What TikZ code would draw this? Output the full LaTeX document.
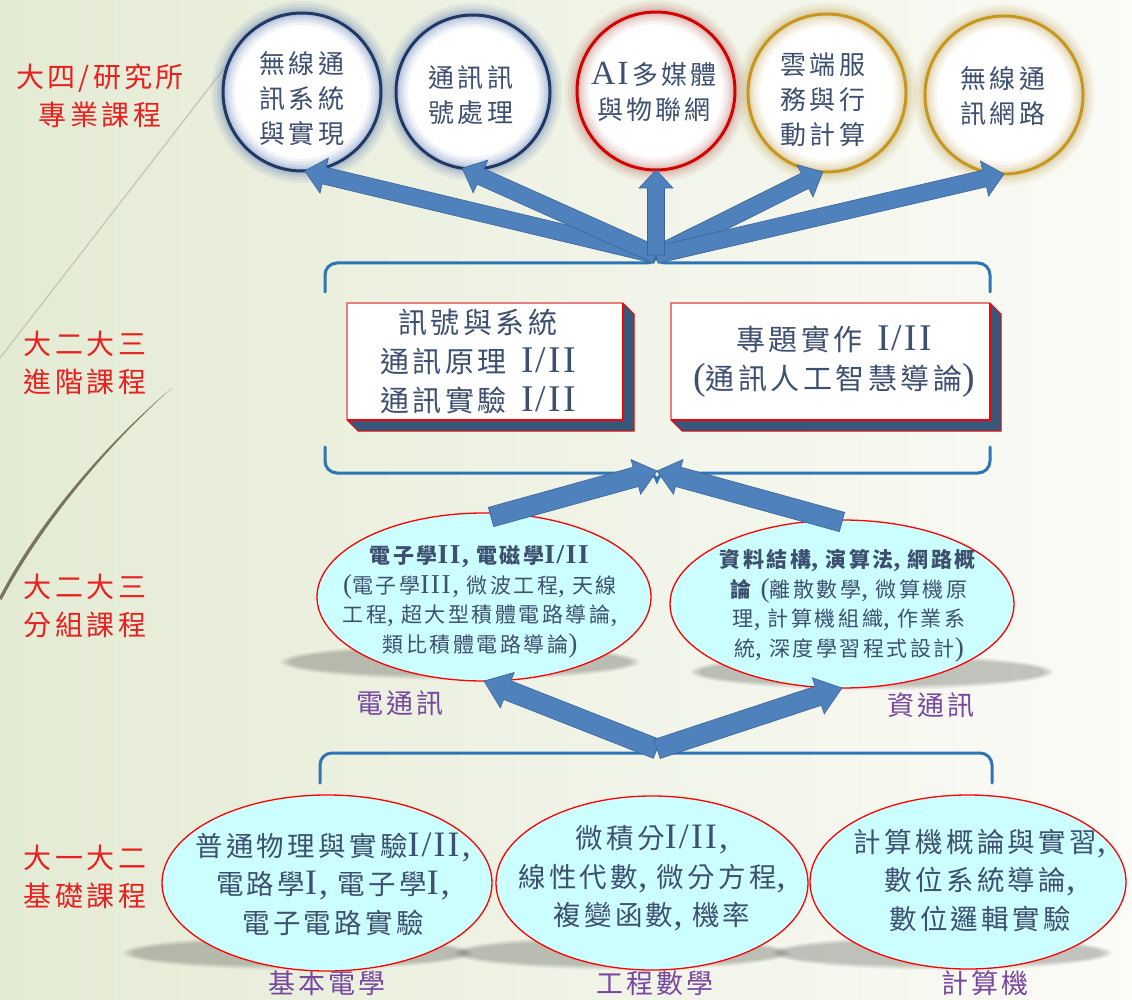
\documentclass[tikz,border=0pt]{standalone}
\usepackage{fontspec}
\setmainfont{Noto Sans CJK TC}
\newfontfamily\cjk[LetterSpace=12]{Noto Sans CJK TC}
\newfontfamily\lat[Scale=1.3,LetterSpace=6]{Liberation Serif}
\newcommand\rn[1]{{\lat #1}}
\newcommand\cm{{\lat ,}\hspace{.35em}}
\usetikzlibrary{shapes.geometric,calc}

\definecolor{bgl}{RGB}{228,235,212}
\definecolor{bgr}{RGB}{251,251,247}
\definecolor{arrfill}{RGB}{79,129,189}
\definecolor{arredge}{RGB}{58,100,155}
\definecolor{brk}{RGB}{46,117,182}
\definecolor{navy}{RGB}{31,56,100}
\definecolor{navyglow}{RGB}{95,125,180}
\definecolor{redc}{RGB}{215,0,0}
\definecolor{redglow}{RGB}{185,115,105}
\definecolor{gold}{RGB}{200,150,30}
\definecolor{goldglow}{RGB}{195,170,95}
\definecolor{txt}{RGB}{62,80,112}
\definecolor{lbl}{RGB}{232,32,32}
\definecolor{purp}{RGB}{118,72,160}
\definecolor{cyanfill}{RGB}{204,255,255}
\definecolor{extr}{RGB}{55,88,122}
\definecolor{pinkb}{RGB}{232,125,125}
\definecolor{deco}{RGB}{122,116,95}
\definecolor{decol}{RGB}{198,198,182}

\tikzset{
 ring/.style={circle, minimum size=#1, inner sep=0pt, outer sep=0pt, fill=white},
 oval/.style={ellipse, fill=cyanfill, draw=red, line width=1.3pt, inner sep=0pt, outer sep=0pt},
 box/.style={rectangle, fill=white, inner sep=0pt, outer sep=0pt},
 ctext/.style={font=\cjk\fontsize{26}{35}\selectfont, text=txt, align=center, inner sep=0pt},
 btext/.style={font=\cjk\fontsize{29}{39}\selectfont, text=txt, align=center, inner sep=0pt},
 mtext/.style={font=\cjk\fontsize{21}{29.5}\selectfont, text=txt, align=center, inner sep=0pt},
 otext/.style={font=\cjk\fontsize{27.5}{38.5}\selectfont, text=txt, align=center, inner sep=0pt},
 lvl/.style={font=\cjk\fontsize{28}{38}\selectfont, text=lbl, align=center, inner sep=0pt},
 grp/.style={font=\cjk\fontsize{27}{30}\selectfont, text=purp, inner sep=0pt},
 brace/.style={brk, line width=3pt, line cap=round},
}

\newcommand\glowring[4]{% node, glow colour, border colour, radius
 \foreach \w/\o in {24pt/0.09,18pt/0.11,12pt/0.14,7pt/0.18}{\draw[#2, line width=\w, opacity=\o] (#1.center) circle (#4);}
 \draw[#3, line width=3pt] (#1.center) circle (#4);
}
\newcommand\softshadow[3]{\foreach \k in {0,...,5}{\fill[black, opacity=0.04] (#1) ellipse ({#2+10-2*\k} and {#3+5-\k});}}
\newcommand\fatarrow[5]{% from, to, shaft half, head half, head length
 \coordinate (fah) at ($(#2)!#5!(#1)$);
 \filldraw[fill=arrfill, draw=arredge, line width=0.6pt]
 ($(#1)!#3!90:(#2)$) -- ($(fah)!#3!-90:(#1)$) -- ($(fah)!#4!-90:(#1)$) -- (#2) -- ($(fah)!#4!90:(#1)$) -- ($(fah)!#3!90:(#1)$) -- ($(#1)!#3!-90:(#2)$) -- cycle;}

\begin{document}
\begin{tikzpicture}[x=1pt,y=-1pt]
\useasboundingbox (0,0) rectangle (1132,1000);
\shade[left color=bgl, right color=bgr] (0,0) rectangle (1132,1000);

% decorative lines
\draw[decol, line width=1.3pt] (226,66) -- (0,358);
\fill[deco] (172,388) .. controls (112,438) and (40,518) .. (-1,598) -- (1.5,600) .. controls (43,521) and (113,440) .. (172,388) -- cycle;

% top circles
\node[ring=158pt] (c1) at (302,92) {};
\node[ring=154pt] (c2) at (473,92) {};
\node[ring=158pt] (c3) at (656,91) {};
\node[ring=158pt] (c4) at (827,93) {};
\node[ring=158pt] (c5) at (1004,95) {};
\glowring{c1}{navyglow}{navy}{79pt}
\glowring{c2}{navyglow}{navy}{77pt}
\glowring{c3}{redglow}{redc}{79pt}
\glowring{c4}{goldglow}{gold}{79pt}
\glowring{c5}{goldglow}{gold}{79pt}

% brackets
\coordinate (topHub) at (656,255);
\draw[brace, rounded corners=12pt] (325,292) -- (325,263) -- (646,263);
\draw[brace] (646,263) .. controls (652,263) and (655,261) .. (656,256) .. controls (657,261) and (660,263) .. (666,263);
\draw[brace, rounded corners=12pt] (666,263) -- (990,263) -- (990,292);

\coordinate (midB) at (657,471);
\draw[brace, rounded corners=12pt] (325,447) -- (325,473) -- (646,473);
\draw[brace] (646,473) .. controls (652,473) and (655,475) .. (657,481) .. controls (659,475) and (662,473) .. (668,473);
\draw[brace, rounded corners=12pt] (668,473) -- (990,473) -- (990,447);

\coordinate (botHub) at (657,749);
\draw[brace, rounded corners=12pt] (320,783) -- (320,753) -- (646,753);
\draw[brace] (646,753) .. controls (652,753) and (655,751) .. (657,745) .. controls (659,751) and (662,753) .. (668,753);
\draw[brace, rounded corners=12pt] (668,753) -- (992,753) -- (992,783);

% boxes
\node[box, minimum width=276pt, minimum height=117pt] (bx1) at (485,361.5) {};
\node[box, minimum width=319pt, minimum height=117pt] (bx2) at (830.5,361.5) {};
\foreach \b in {bx1,bx2}{
 \filldraw[fill=extr, draw=red, line width=1pt] (\b.north east) -- ++(11,11) -- ($(\b.south east)+(11,11)$) -- ($(\b.south west)+(11,11)$) -- (\b.south west) -- (\b.south east) -- cycle;
 \draw[pinkb, line width=1.5pt] (\b.south west) -- (\b.north west) -- (\b.north east);
 \draw[red, line width=1.5pt] (\b.north east) -- (\b.south east) -- (\b.south west);
}

% shadows and ovals
\softshadow{460,662}{170}{13}
\softshadow{872,672}{172}{13}
\softshadow{298,953}{165}{12}
\softshadow{622,953}{158}{12}
\softshadow{942,953}{160}{12}
\node[oval, minimum width=334pt, minimum height=168pt] (m1) at (484,597) {};
\node[oval, minimum width=344pt, minimum height=168pt] (m2) at (842,604) {};
\node[oval, minimum width=330pt, minimum height=176pt] (b1) at (327,883) {};
\node[oval, minimum width=312pt, minimum height=174pt] (b2) at (652,883) {};
\node[oval, minimum width=316pt, minimum height=174pt] (b3) at (968,882) {};

% arrows
\fatarrow{topHub}{c1.-88}{8.5pt}{18pt}{20pt}
\fatarrow{topHub}{c2.-98}{8.5pt}{18pt}{20pt}
\fatarrow{topHub}{c4.-93}{8.5pt}{18pt}{20pt}
\fatarrow{topHub}{c5.south}{8.5pt}{18pt}{20pt}
\fatarrow{topHub}{c3.south}{8.5pt}{17pt}{18pt}
\coordinate (m1top) at ($(m1.north)+(7,4)$);
\coordinate (m2top) at ($(m2.north)+(0,2)$);
\fatarrow{m1top}{midB}{10pt}{18pt}{22pt}
\fatarrow{m2top}{midB}{10pt}{18pt}{22pt}
\fatarrow{botHub}{m1.south}{10pt}{19pt}{25pt}
\fatarrow{botHub}{m2.south}{10pt}{19pt}{25pt}

% level labels
\node[lvl] (lv1) at (100,96) {大四/研究所\\專業課程};
\node[lvl] (lv2) at (85,363) {大二大三\\進階課程};
\node[lvl] (lv3) at (85,606) {大二大三\\分組課程};
\node[lvl] (lv4) at (85,877) {大一大二\\基礎課程};

% circle texts
\node[ctext] (c1t) at (302,99) {無線通\\訊系統\\與實現};
\node[ctext] (c2t) at (471,95) {通訊訊\\號處理};
\node[ctext] (c3t) at (654,92) {\rn{AI}\hspace{.15em}多媒體\\與物聯網};
\node[ctext] (c4t) at (823,100) {雲端服\\務與行\\動計算};
\node[ctext] (c5t) at (1003,96) {無線通\\訊網路};

% box texts
\node[btext] (bx1t) at (478,361) {訊號與系統\\通訊原理\hspace{.5em}\rn{I/II}\\通訊實驗\hspace{.5em}\rn{I/II}};
\node[btext] (bx2t) at (834,362) {專題實作\hspace{.5em}\rn{I/II}\\\rn{(}通訊人工智慧導論\rn{)}};

% middle oval texts
\node[mtext] (m1t) at (480,602) {\textbf{電子學\rn{II}\cm 電磁學\rn{I/II}}\\\rn{(}電子學\rn{III}\cm 微波工程\cm 天線\\工程\cm 超大型積體電路導論\rn{,}\\類比積體電路導論\rn{)}};
\node[mtext] (m2t) at (849,606) {\textbf{資料結構\cm 演算法\cm 網路概}\\\textbf{論}\hspace{.3em}\rn{(}離散數學\cm 微算機原\\理\cm 計算機組織\cm 作業系\\統\cm 深度學習程式設計\rn{)}};

% bottom oval texts
\node[otext] (b1t) at (333,884) {普通物理與實驗\rn{I/II,}\\電路學\rn{I}\cm 電子學\rn{I,}\\電子電路實驗};
\node[otext] (b2t) at (652,878) {微積分\rn{I/II,}\\線性代數\cm 微分方程\rn{,}\\複變函數\cm 機率};
\node[otext] (b3t) at (980,880) {計算機概論與實習\rn{,}\\數位系統導論\rn{,}\\數位邏輯實驗};

% group labels
\node[grp] (g1) at (400,703) {電通訊};
\node[grp] (g2) at (931,705) {資通訊};
\node[grp] (g3) at (327,983) {基本電學};
\node[grp] (g4) at (655,983) {工程數學};
\node[grp] (g5) at (985,983) {計算機};
\end{tikzpicture}
\end{document}
